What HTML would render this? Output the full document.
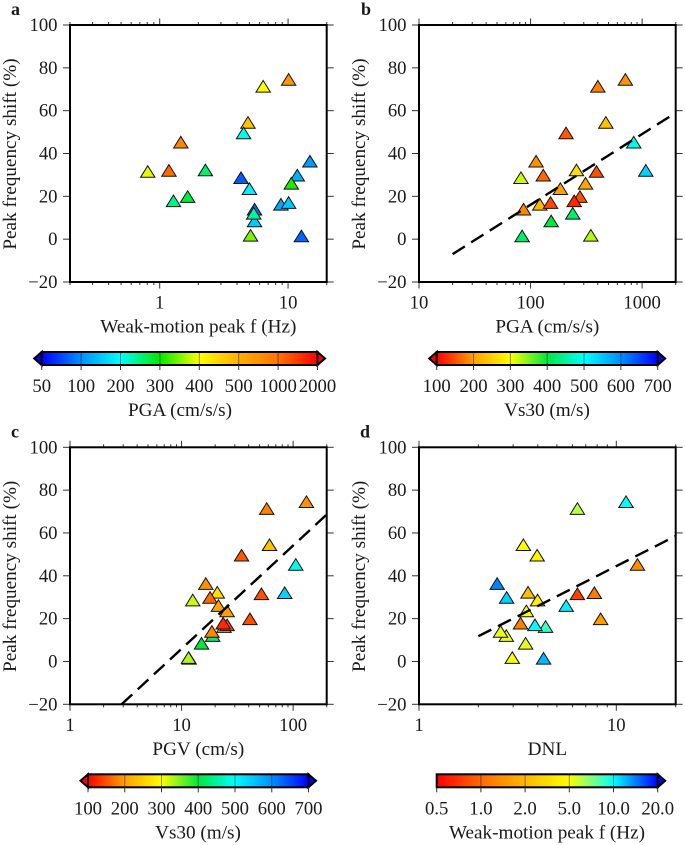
<!DOCTYPE html>
<html lang="en">
<head>
<meta charset="utf-8">
<title>Peak frequency shift panels</title>
<style>
html,body{margin:0;padding:0;background:#fff;}
svg{display:block;font-family:"Liberation Serif",serif;}
text{fill:#1a1a1a;}
</style>
</head>
<body>
<svg id="chart" xmlns="http://www.w3.org/2000/svg" width="685" height="845" viewBox="0 0 685 845"></svg>
<script>
// Station data. Array order is the base drawing order.
const shift = [74.5,71.3,54.4,49.5,45.2,36.3,32.2,31.5,32,29.8,28.6,26,23.5,19.8,16.2,17,17.8,12,13.9,8.4,1.4,1.7];
const peakF = [10.1,6.4,4.87,4.5,1.46,14.8,2.27,0.807,1.18,11.8,4.3,10.6,5,1.65,8.8,10.1,1.28,5.4,5.48,5.48,12.7,5.1];
const pga = [708,401,473,208,841,112,258,390,1079,130,82,311,185,277,121,151,246,239,86.5,153,84,347];
const pgv = [131.6,58,61.4,34.5,105.6,16.5,20.9,52,84,18,12.6,21.4,25.6,41,24,25.6,23.6,19,18.7,15.1,11.7,11.55];
const dnl = [11.2,6.35,3.38,3.97,12.8,2.49,3.57,6.35,7.74,2.78,3.99,5.57,3.5,8.33,4.38,3.87,3.27,2.77,2.59,3.47,4.28,2.97];
const vs30 = [190,180,235,155,490,190,265,150,540,165,320,205,200,150,225,145,125,420,185,400,420,330];

// Axis tick labels
const yTicks = [-20,0,20,40,60,80,100];
const xTicksA = [1,10];
const xTicksB = [10,100,1000];
const xTicksC = [1,10,100];
const xTicksD = [1,10];

// Trend lines (x, y end points in data units)
const trendBX = [20,2000];
const trendBY = [-7,59];
const trendCX = [2.9,200];
const trendCY = [-20,68.6];
const trendDX = [2,20];
const trendDY = [11.8,58.6];

// Colour scales
const pgaScale = [50,100,200,300,400,500,1000,2000];
const pgaColors = ['#0000ff','#0090ff','#00ffff','#00e800','#ffff00','#ffb000','#ff7400','#ff0000'];
const vsScale = [100,200,300,400,500,600,700];
const vsColors = ['#ff0000','#ffa000','#ffff00','#00e840','#00ffff','#0090ff','#0000ff'];
const fScale = [0.5,1,2,5,10,20];
const fScaleLabels = ['0.5','1.0','2.0','5.0','10.0','20.0'];
const fColors = ['#ff0000','#ff6a00','#ffb800','#ffff00','#00ffff','#0000ff'];

const svgNS = 'http://www.w3.org/2000/svg';
const root = document.getElementById('chart');

function make(parent, tag, props, text) {
  const el = document.createElementNS(svgNS, tag);
  for (const k in props) el.setAttribute(k, props[k]);
  if (text !== undefined) el.textContent = text;
  parent.appendChild(el);
  return el;
}
function hexRgb(h) {
  return [parseInt(h.slice(1,3),16), parseInt(h.slice(3,5),16), parseInt(h.slice(5,7),16)];
}
function colorAt(scale, colors, v) {
  if (v <= scale[0]) return colors[0];
  for (let i = 1; i < scale.length; i++) {
    if (v <= scale[i]) {
      const t = (v - scale[i-1]) / (scale[i] - scale[i-1]);
      const a = hexRgb(colors[i-1]), b = hexRgb(colors[i]);
      return 'rgb(' + a.map((c,j) => Math.round(c + (b[j]-c)*t)).join(',') + ')';
    }
  }
  return colors[colors.length-1];
}

const PW = 256.7, PH = 257;
const TITLE_SIZE = 19.2, TICK_SIZE = 18.7;
const panels = [
  {id:'a', left:70, top:25, letterX:11, xmin:0.2, xmax:20, xData:peakF, xTicks:xTicksA, xTitle:'Weak-motion peak f (Hz)',
   colorScale:pgaScale, colorList:pgaColors, colorData:pga, raised:17,
   bar:{x0:41.7,x1:317.5,left:true,right:true,labels:pgaScale,title:'PGA (cm/s/s)',titleX:180}},
  {id:'b', left:419, top:25, letterX:361, xmin:10, xmax:2000, xData:pga, xTicks:xTicksB, xTitle:'PGA (cm/s/s)',
   colorScale:vsScale, colorList:vsColors, colorData:vs30, trendX:trendBX, trendY:trendBY,
   bar:{x0:436.7,x1:657.7,left:true,right:true,labels:vsScale,title:'Vs30 (m/s)',titleX:547}},
  {id:'c', left:70, top:447.3, letterX:11, xmin:1, xmax:200, xData:pgv, xTicks:xTicksC, xTitle:'PGV (cm/s)',
   colorScale:vsScale, colorList:vsColors, colorData:vs30, trendX:trendCX, trendY:trendCY,
   bar:{x0:88,x1:308.5,left:true,right:true,labels:vsScale,title:'Vs30 (m/s)',titleX:198}},
  {id:'d', left:419, top:447.3, letterX:360, xmin:1, xmax:20, xData:dnl, xTicks:xTicksD, xTitle:'DNL',
   colorScale:fScale, colorList:fColors, colorData:peakF, trendX:trendDX, trendY:trendDY,
   bar:{x0:436.7,x1:657.7,left:false,right:true,labels:fScaleLabels,title:'Weak-motion peak f (Hz)',titleX:547}}
];

panels.forEach(function(p) {
  const g = make(root, 'g', {});
  
  

  const xs = v => p.left + (Math.log10(v) - Math.log10(p.xmin)) / (Math.log10(p.xmax) - Math.log10(p.xmin)) * PW;
  const ys = v => p.top + (100 - v) / 120 * PH;
  const right = p.left + PW, bottom = p.top + PH;

  const letter = make(g, 'text', {x:p.letterX, y:p.top-10, 'font-size':18, 'font-weight':'bold', fill:'#111'}, p.id);
  
  

  // Y axis
  const yAxis = make(g, 'g', {});
  
  
  yTicks.forEach(function(t) {
    const y = ys(t);
    make(yAxis, 'line', {x1:p.left-7, x2:p.left, y1:y, y2:y, stroke:'#333', 'stroke-width':1});
    make(yAxis, 'line', {x1:right, x2:right+7, y1:y, y2:y, stroke:'#333', 'stroke-width':1});
    const lab = make(yAxis, 'text', {x:p.left-12.5, y:y+6, 'text-anchor':'end', 'font-size':TICK_SIZE}, t < 0 ? '\u2212' + (-t) : String(t));
    
    
  });
  const yTitle = make(yAxis, 'text', {transform:'translate(' + (p.left-54) + ',' + (p.top+129) + ') rotate(-90)', 'text-anchor':'middle', 'font-size':TITLE_SIZE}, 'Peak frequency shift (%)');
  
  

  // X axis
  const xAxis = make(g, 'g', {});
  
  
  const eStart = Math.floor(Math.log10(p.xmin)), eEnd = Math.ceil(Math.log10(p.xmax));
  for (let e = eStart; e <= eEnd; e++) {
    for (let m = 1; m <= 9; m++) {
      const v = m * Math.pow(10, e);
      if (v < p.xmin * 0.999 || v > p.xmax * 1.001) continue;
      const len = m === 1 ? 6.5 : 3;
      const x = xs(v);
      make(xAxis, 'line', {x1:x, x2:x, y1:p.top-len, y2:p.top, stroke:'#333', 'stroke-width':1});
      make(xAxis, 'line', {x1:x, x2:x, y1:bottom, y2:bottom+len, stroke:'#333', 'stroke-width':1});
    }
  }
  p.xTicks.forEach(function(t) {
    const lab = make(xAxis, 'text', {x:xs(t), y:bottom+26.5, 'text-anchor':'middle', 'font-size':TICK_SIZE}, String(t));
    
    
  });
  const xTitle = make(xAxis, 'text', {x:p.left+PW/2, y:bottom+50.5, 'text-anchor':'middle', 'font-size':TITLE_SIZE}, p.xTitle);
  
  

  // Points
  const marks = make(g, 'g', {});
  
  
  const order = shift.map((_, i) => i).filter(i => i !== p.raised);
  if (p.raised !== undefined) {
    order.splice(order.indexOf(19) + 1, 0, p.raised);
  }
  order.forEach(function(i) {
    const cx = xs(p.xData[i]), cy = ys(shift[i]) + 0.6;
    const tri = make(marks, 'polygon', {
      points: cx + ',' + (cy-6.6) + ' ' + (cx+7.2) + ',' + (cy+5) + ' ' + (cx-7.2) + ',' + (cy+5),
      fill: colorAt(p.colorScale, p.colorList, p.colorData[i]),
      stroke: '#111', 'stroke-width': 1, 'stroke-linejoin': 'miter'
    });
    
    
  });

  // Trend line
  if (p.trendX) {
    const trend = make(g, 'line', {x1:xs(p.trendX[0]), y1:ys(p.trendY[0]), x2:xs(p.trendX[1]), y2:ys(p.trendY[1]),
      stroke:'#000', 'stroke-width':2.4, 'stroke-dasharray':'14.5 7.5'});
    
    
  }

  // Frame
  const frame = make(g, 'rect', {x:p.left, y:p.top, width:PW, height:PH, fill:'none', stroke:'#000', 'stroke-width':2});
  
  

  // Colour bar
  const b = p.bar;
  const by = p.top + 327, bh = 13;
  const cb = make(g, 'g', {});
  
  
  const gid = 'grad-' + p.id;
  const grad = make(cb, 'linearGradient', {id:gid, x1:0, x2:1, y1:0, y2:0});
  p.colorList.forEach(function(c, i) {
    make(grad, 'stop', {offset:i / (p.colorList.length-1), 'stop-color':c});
  });
  const midY = by + bh/2;
  if (b.left) {
    make(cb, 'polygon', {points:(b.x0-7.5)+','+midY+' '+b.x0+','+by+' '+b.x0+','+(by+bh), fill:p.colorList[0], stroke:'#000', 'stroke-width':2, 'stroke-linejoin':'miter'});
  }
  if (b.right) {
    make(cb, 'polygon', {points:(b.x1+7.5)+','+midY+' '+b.x1+','+by+' '+b.x1+','+(by+bh), fill:p.colorList[p.colorList.length-1], stroke:'#000', 'stroke-width':2, 'stroke-linejoin':'miter'});
  }
  make(cb, 'rect', {x:b.x0, y:by, width:b.x1-b.x0, height:bh, fill:'url(#'+gid+')', stroke:'#000', 'stroke-width':2});
  const n = b.labels.length;
  b.labels.forEach(function(l, i) {
    const x = b.x0 + i/(n-1) * (b.x1-b.x0);
    if (i > 0 && i < n-1) {
      make(cb, 'line', {x1:x, x2:x, y1:by, y2:by+bh, stroke:'#000', 'stroke-opacity':0.45, 'stroke-width':1});
    }
    make(cb, 'line', {x1:x, x2:x, y1:by+bh, y2:by+bh+5, stroke:'#333', 'stroke-width':1});
    const lab = make(cb, 'text', {x:x, y:by+bh+27, 'text-anchor':'middle', 'font-size':TICK_SIZE}, String(l));
    
    
  });
  const cbTitle = make(cb, 'text', {x:b.titleX, y:by+bh+51, 'text-anchor':'middle', 'font-size':TITLE_SIZE}, b.title);
  
  
});
</script>
</body>
</html>
